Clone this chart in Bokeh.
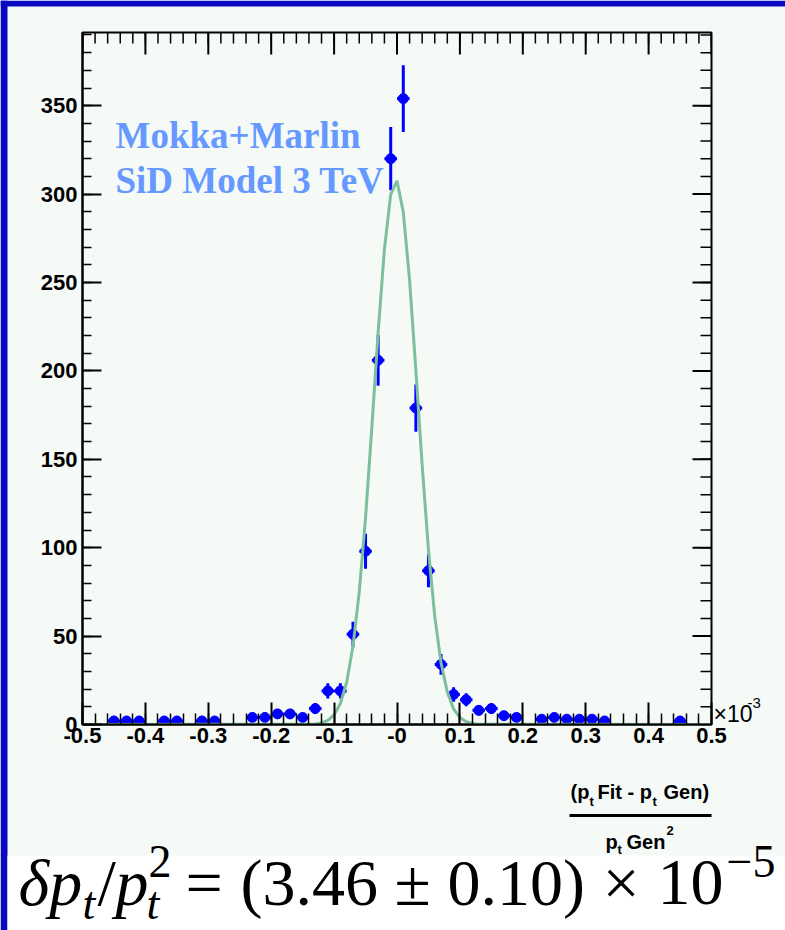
import numpy as np
from bokeh.plotting import figure
from bokeh.models import Range1d, FixedTicker, Label, ColumnDataSource, GridBox
from bokeh.embed import file_html
from bokeh.resources import INLINE

# ---------------- data (x in units of 1e-3) ----------------
BIN_CENTERS = [-0.49, -0.47, -0.45, -0.43, -0.41, -0.39, -0.37, -0.35, -0.33, -0.31,
               -0.29, -0.27, -0.25, -0.23, -0.21, -0.19, -0.17, -0.15, -0.13, -0.11,
               -0.09, -0.07, -0.05, -0.03, -0.01, 0.01, 0.03, 0.05, 0.07, 0.09,
               0.11, 0.13, 0.15, 0.17, 0.19, 0.21, 0.23, 0.25, 0.27, 0.29,
               0.31, 0.33, 0.35, 0.37, 0.39, 0.41, 0.43, 0.45, 0.47, 0.49]
COUNTS = [0, 0, 2, 2, 2, 0, 2, 2, 0, 2,
          2, 0, 0, 4, 4, 6, 6, 4, 9, 19,
          19, 51, 98, 206, 320, 354, 179, 87, 34, 17,
          14, 8, 9, 5, 4, 0, 3, 4, 3, 3,
          3, 2, 0, 0, 0, 0, 0, 2, 0, 0]
BIN_HALF_WIDTH = 0.01

FIT_X = [-0.50, -0.14, -0.13, -0.12, -0.11, -0.10, -0.09, -0.08, -0.07, -0.06,
         -0.05, -0.04, -0.03, -0.02, -0.01, 0.00, 0.01, 0.02, 0.03, 0.04,
         0.05, 0.06, 0.07, 0.08, 0.09, 0.10, 0.11, 0.12, 0.13, 0.14, 0.50]
FIT_Y = [0.0, 0.1, 0.3, 0.9, 2.3, 5.4, 11.9, 23.9, 44.2, 75.0,
         117.0, 168.0, 221.6, 268.8, 299.8, 307.5, 289.9, 251.3, 200.3, 146.8,
         98.9, 61.3, 34.9, 18.3, 8.8, 3.9, 1.6, 0.6, 0.2, 0.1, 0.0]

X_TICKS = [-0.5, -0.4, -0.3, -0.2, -0.1, 0.0, 0.1, 0.2, 0.3, 0.4, 0.5]
X_TICK_LABELS = ["-0.5", "-0.4", "-0.3", "-0.2", "-0.1", "-0", "0.1", "0.2", "0.3", "0.4", "0.5"]
Y_TICKS = [0, 50, 100, 150, 200, 250, 300, 350]
Y_TICK_LABELS = ["0", "50", "100", "150", "200", "250", "300", "350"]

X_RANGE = (-0.5, 0.5)
Y_RANGE = (0.0, 391.4)

# ---------------- style ----------------
PAGE_W, PAGE_H = 785, 930
PAGE_BLUE = "#0909c0"
PANEL = "#f5faf7"
DATA_BLUE = "#0000ff"
FIT_GREEN = "#7dbf9d"
TEXT_BLUE = "#6699ff"
SANS = "Liberation Sans"
SERIF = "Liberation Serif"
BASELINE_SHIFT = 0.35   # compensation: rendered baseline sits this many em below y

# frame geometry on the page (px)
FRAME_L, FRAME_R, FRAME_T, FRAME_B = 82, 711, 32, 724
PANEL_L, PANEL_T, PANEL_B = 7, 6, 855
XPX = (FRAME_R - FRAME_L) / (X_RANGE[1] - X_RANGE[0])
YPX = (FRAME_B - FRAME_T) / (Y_RANGE[1] - Y_RANGE[0])

# ---------------- main plot ----------------
p = figure(width=PAGE_W, height=PAGE_H, x_range=Range1d(*X_RANGE), y_range=Range1d(*Y_RANGE),
           output_backend="svg", toolbar_location=None,
           min_border_left=FRAME_L, min_border_right=PAGE_W - FRAME_R,
           min_border_top=FRAME_T, min_border_bottom=PAGE_H - FRAME_B,
           background_fill_color=PANEL, border_fill_color=PANEL)
p.frame_align = False
p.grid.visible = False
p.outline_line_color = "black"
p.outline_line_width = 2

x_minor = [round(X_RANGE[0] + 0.02 * i, 2) for i in range(51)]
y_minor = list(range(0, 400, 10))
xticker = FixedTicker(ticks=X_TICKS, minor_ticks=x_minor)
yticker = FixedTicker(ticks=Y_TICKS, minor_ticks=y_minor)

X_MAJ, X_MIN, Y_MAJ, Y_MIN = 22, 11, 19, 9


def style_axis(ax, ticker, major_in, minor_in):
    ax.ticker = ticker
    ax.axis_line_color = "black"
    ax.axis_line_width = 2
    ax.major_tick_in = major_in
    ax.major_tick_out = 0
    ax.minor_tick_in = minor_in
    ax.minor_tick_out = 0
    ax.major_tick_line_width = 2
    ax.minor_tick_line_width = 1.5
    ax.major_tick_line_color = "black"
    ax.minor_tick_line_color = "black"
    ax.major_label_text_font = SANS
    ax.major_label_text_font_style = "bold"
    ax.major_label_text_font_size = "22px"
    ax.major_label_text_color = "black"


xa = p.xaxis[0]
ya = p.yaxis[0]
style_axis(xa, xticker, X_MAJ, X_MIN)
style_axis(ya, yticker, Y_MAJ, Y_MIN)
xa.major_label_overrides = dict(zip(X_TICKS, X_TICK_LABELS))
ya.major_label_overrides = dict(zip(Y_TICKS, Y_TICK_LABELS))
xa.major_label_standoff = 3
ya.major_label_standoff = 5

# ticks on the top and right frame edges (pointing inward)
top = Y_RANGE[1]
right = X_RANGE[1]
p.segment(X_TICKS, [top] * len(X_TICKS), X_TICKS, [top - X_MAJ / YPX] * len(X_TICKS),
          line_color="black", line_width=2)
p.segment(x_minor, [top] * len(x_minor), x_minor, [top - X_MIN / YPX] * len(x_minor),
          line_color="black", line_width=1.5)
p.segment([right] * len(Y_TICKS), Y_TICKS, [right - Y_MAJ / XPX] * len(Y_TICKS), Y_TICKS,
          line_color="black", line_width=2)
p.segment([right] * len(y_minor), y_minor, [right - 11 / XPX] * len(y_minor), y_minor,
          line_color="black", line_width=1.5)

# histogram points with error bars
xs = np.array(BIN_CENTERS)
ns = np.array(COUNTS, dtype=float)
mask = ns > 0
err = np.sqrt(ns)
src = ColumnDataSource(dict(
    x=xs[mask], y=ns[mask], lo=(ns - err)[mask], hi=(ns + err)[mask],
    left=(xs - BIN_HALF_WIDTH)[mask], right=(xs + BIN_HALF_WIDTH)[mask]))
p.segment("x", "lo", "x", "hi", source=src, line_color=DATA_BLUE, line_width=3)
p.segment("left", "y", "right", "y", source=src, line_color=DATA_BLUE, line_width=3)
p.scatter("x", "y", source=src, marker="circle", size=10, fill_color=DATA_BLUE, line_color=DATA_BLUE)

# fit curve
p.line(FIT_X, FIT_Y, line_color=FIT_GREEN, line_width=3)


def _label(fig, text, x, y, size, font, style, color):
    fig.add_layout(Label(x=x, y=y, text=text, text_font=font, text_font_size=f"{size}px",
                         text_font_style=style, text_color=color,
                         text_baseline="alphabetic", text_align="left"))


def plot_label(text, px, py, size, font, style="normal", color="black"):
    """Label inside the main plot, given by its page-pixel baseline position."""
    py = py - BASELINE_SHIFT * size
    _label(p, text, X_RANGE[0] + (px - FRAME_L) / XPX, (FRAME_B - py) / YPX, size, font, style, color)


# ---------------- overlay in page pixel coordinates ----------------
ov = figure(width=PAGE_W, height=PAGE_H, x_range=Range1d(0, PAGE_W), y_range=Range1d(PAGE_H, 0),
            output_backend="svg", toolbar_location=None,
            x_axis_type=None, y_axis_type=None, min_border=0,
            min_border_left=0, min_border_right=0, min_border_top=0, min_border_bottom=0,
            background_fill_color=None, border_fill_color=None)
ov.frame_align = False
ov.grid.visible = False
ov.outline_line_color = None


def page_label(text, px, py, size, font, style="normal", color="black"):
    _label(ov, text, px, py - BASELINE_SHIFT * size, size, font, style, color)


# in-plot annotation
plot_label("Mokka+Marlin", 115, 148, 37, SERIF, "bold", TEXT_BLUE)
plot_label("SiD Model 3 TeV", 115, 193, 37, SERIF, "bold", TEXT_BLUE)

# page background: blue strips and white formula band
ov.quad(left=[0, 0], right=[PANEL_L, PAGE_W], top=[0, 0], bottom=[PAGE_H, PANEL_T],
        fill_color=PAGE_BLUE, line_color=None)
ov.quad(left=[PANEL_L], right=[PAGE_W], top=[PANEL_B], bottom=[PAGE_H],
        fill_color="white", line_color=None)

# x10^-3 exponent
page_label("\u00d710", 713, 722, 23, SANS, "normal")
page_label("-3", 747, 708, 15, SANS, "normal")

# axis title as fraction
page_label("(p", 570, 798, 20, SANS, "bold")
page_label("t", 589, 806, 13, SANS, "bold")
page_label("Fit - p", 597, 798, 20, SANS, "bold")
page_label("t", 652, 806, 13, SANS, "bold")
page_label("Gen)", 663, 798, 20, SANS, "bold")
ov.segment(x0=[569], y0=[815], x1=[711], y1=[815], line_color="black", line_width=3)
page_label("p", 605, 848, 20, SANS, "bold")
page_label("t", 617, 854, 13, SANS, "bold")
page_label("Gen", 626, 848, 20, SANS, "bold")
page_label("2", 666, 835, 13, SANS, "bold")

# formula
FS = 66
SS = 46
BASE = 905
page_label("\u03b4p", 18, BASE, FS, SERIF, "italic")
page_label("t", 82, BASE + 14, SS, SERIF, "italic")
page_label("/", 97, BASE, FS, SERIF, "normal")
page_label("p", 115, BASE, FS, SERIF, "italic")
page_label("t", 146, BASE + 14, SS, SERIF, "italic")
page_label("2", 148, BASE - 28, SS, SERIF, "normal")
page_label("=", 185, BASE, FS, SERIF, "normal")
page_label("(3.46", 240, BASE, FS, SERIF, "normal")
page_label("\u00b1", 394, BASE, FS, SERIF, "normal")
page_label("0.10)", 447, BASE, FS, SERIF, "normal")
page_label("\u00d7", 602, BASE, FS, SERIF, "normal")
page_label("10", 657, BASE, FS, SERIF, "normal")
page_label("\u22125", 726, BASE - 28, SS, SERIF, "normal")

root = GridBox(children=[(p, 0, 0), (ov, 0, 0)])

open("out.html", "w").write(file_html(root, INLINE))
